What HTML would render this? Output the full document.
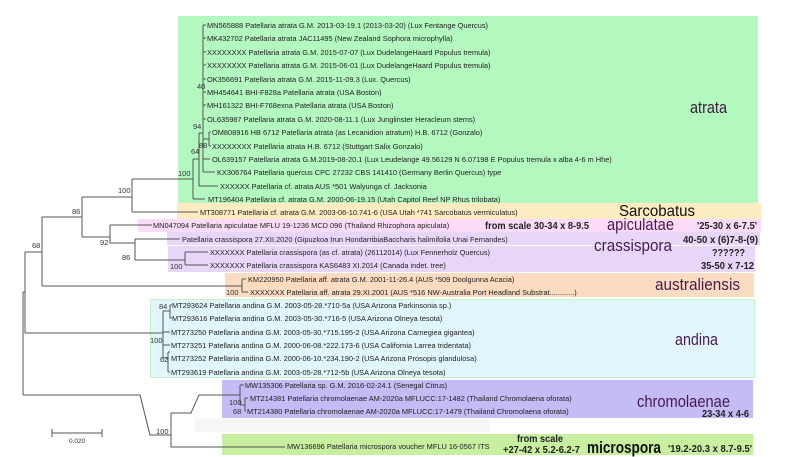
<!DOCTYPE html>
<html><head><meta charset="utf-8"><style>
html,body{margin:0;padding:0;background:#fff;}
svg{display:block;}
.t{font-family:"Liberation Sans",sans-serif;font-size:7.4px;fill:#222;}
.n{font-family:"Liberation Sans",sans-serif;font-size:7.5px;fill:#333;}
.b{font-family:"Liberation Sans",sans-serif;font-size:10.5px;font-weight:bold;fill:#222;}
.c{font-family:"Liberation Sans",sans-serif;font-size:16.5px;fill:#4a1850;}
</style></head><body>
<svg width="800" height="457" viewBox="0 0 800 457" xmlns="http://www.w3.org/2000/svg">
<rect x="178" y="16" width="580" height="187" fill="#b3f8bf"/>
<rect x="177" y="203" width="584" height="16" fill="#fdebc2"/>
<rect x="138" y="219" width="623" height="13" fill="#fadcf8"/>
<rect x="167" y="232" width="593" height="13" fill="#e8d6f9"/>
<rect x="168" y="246" width="587" height="26" fill="#e8d6f9"/>
<rect x="225" y="273" width="529" height="24" fill="#fcdcc0"/>
<rect x="150.5" y="299.5" width="604" height="78" fill="#e0f6fb" stroke="#c8f2c8" stroke-width="1"/>
<rect x="222" y="380" width="531" height="38" fill="#c3bcf5"/>
<rect x="195" y="419" width="295" height="13" fill="#f6f6f6"/>
<rect x="222" y="434" width="531" height="21" fill="#c8eea0"/>

<g stroke="#555" stroke-width="1" fill="none">
<path d="M193 159V199M193 159H199M193 199H205"/>
<path d="M199 133V186M199 186H218M199 133H203"/>
<path d="M203 25V172"/>
<path d="M203 25H206M203 38H206M203 52H206M203 65H206M203 79H206M203 92H206M203 105H206M203 119H206M203 159H210M203 172H215M203 139H209"/>
<path d="M209 132V146M209 132H211M209 146H211"/>
<path d="M132 179H193M132 179V212M132 212H198"/>
<path d="M82 197H132M82 197V237M82 237H110"/>
<path d="M110 225H152M110 225V243M110 243H135"/>
<path d="M135 239V260M135 239H180M135 260H185M185 252V265M185 252H208M185 265H208"/>
<path d="M42 217V286M42 217H82M42 286H242M242 279V292M242 279H246M242 292H248"/>
<path d="M25 252V333M25 252H42M25 333H163"/>
<path d="M163 311V358M163 311H170M170 305V318M170 305H172M170 318H172M163 332H170M163 345H170M163 358H168M168 352V372M168 352H170M168 372H170"/>
<path d="M23 292V395M23 292H25M23 395H140L150 435H171M171 413V447M171 447H285M171 413H191L199 395H240M240 385V405M240 385H244M240 405H245M245 398V411M245 398H248M245 411H246"/>
<path d="M52 433H102M52 429V437M102 429V437"/>
</g>

<text class="n" x="197" y="89">40</text>
<text class="n" x="193" y="129">94</text>
<text class="n" x="199" y="148">88</text>
<text class="n" x="191" y="154">64</text>
<text class="n" x="178" y="176">100</text>
<text class="n" x="118" y="193">100</text>
<text class="n" x="72" y="214">86</text>
<text class="n" x="32" y="248">68</text>
<text class="n" x="100" y="245">92</text>
<text class="n" x="122" y="260">86</text>
<text class="n" x="170" y="269">100</text>
<text class="n" x="226" y="295">100</text>
<text class="n" x="159" y="309">84</text>
<text class="n" x="150" y="343">100</text>
<text class="n" x="160" y="362">62</text>
<text class="n" x="229" y="405">100</text>
<text class="n" x="233" y="414">68</text>
<text class="n" x="156" y="434">100</text>
<text class="n" x="69" y="443" style="font-size:6.5px">0.020</text>

<text class="t" x="207" y="28">MN565888 Patellaria atrata G.M. 2013-03-19.1 (2013-03-20) (Lux Fentange Quercus)</text>
<text class="t" x="207" y="41">MK432702 Patellaria atrata JAC11495 (New Zealand Sophora microphylla)</text>
<text class="t" x="207" y="55">XXXXXXXX Patellaria atrata G.M. 2015-07-07 (Lux DudelangeHaard Populus tremula)</text>
<text class="t" x="207" y="68">XXXXXXXX Patellaria atrata G.M. 2015-06-01 (Lux DudelangeHaard Populus tremula)</text>
<text class="t" x="207" y="82">OK356691 Patellaria atrata G.M. 2015-11-09.3 (Lux. Quercus)</text>
<text class="t" x="207" y="95">MH454641 BHI-F828a Patellaria atrata (USA Boston)</text>
<text class="t" x="207" y="108">MH161322 BHI-F768exna Patellaria atrata (USA Boston)</text>
<text class="t" x="207" y="122">OL635987 Patellaria atrata G.M. 2020-08-11.1 (Lux Junglinster Heracleum stems)</text>
<text class="t" x="212" y="135">OM808916 HB 6712 Patellaria atrata (as Lecanidion atratum) H.B. 6712 (Gonzalo)</text>
<text class="t" x="212" y="149">XXXXXXXX Patellaria atrata H.B. 6712 (Stuttgart Salix Gonzalo)</text>
<text class="t" x="212" y="162">OL639157 Patellaria atrata G.M.2019-08-20.1 (Lux Leudelange 49.56129 N 6.07198 E Populus tremula x alba 4-6 m Hhe)</text>
<text class="t" x="217" y="175">KX306764 Patellaria quercus CPC 27232 CBS 141410 (Germany Berlin Quercus) type</text>
<text class="t" x="220" y="189">XXXXXX Patellaria cf. atrata AUS *501 Walyunga cf. Jacksonia</text>
<text class="t" x="208" y="202">MT196404 Patellaria cf. atrata G.M. 2000-06-19.15 (Utah Capitol Reef NP Rhus trilobata)</text>
<text class="t" x="200" y="215">MT308771 Patellaria cf. atrata G.M. 2003-06-10.741-6 (USA Utah *741 Sarcobatus vermiculatus)</text>
<text class="t" x="153" y="228">MN047094 Patellaria apiculatae MFLU 19-1236 MCD 096 (Thailand Rhizophora apiculata)</text>
<text class="t" x="182" y="242">Patellaria crassispora 27.XII.2020 (Gipuzkoa Irun HondarribiaBaccharis halimifolia Unai Fernandes)</text>
<text class="t" x="210" y="255">XXXXXXX Patellaria crassispora (as cf. atrata) (26112014) (Lux Fennerholz Quercus)</text>
<text class="t" x="210" y="268">XXXXXXX Patellaria crassispora KAS6483 XI.2014 (Canada indet. tree)</text>
<text class="t" x="248" y="282">KM220950 Patellaria aff. atrata G.M. 2001-11-26.4 (AUS *509 Doolgunna Acacia)</text>
<text class="t" x="250" y="295">XXXXXXX Patellaria aff. atrata 29.XI.2001 (AUS *516 NW-Australia Port Headland Substrat............)</text>
<text class="t" x="172" y="308">MT293624 Patellaria andina G.M. 2003-05-28.*710-5a (USA Arizona Parkinsonia sp.)</text>
<text class="t" x="172" y="321">MT293616 Patellaria andina G.M. 2003-05-30.*716-5 (USA Arizona Olneya tesota)</text>
<text class="t" x="171" y="335">MT273250 Patellaria andina G.M. 2003-05-30.*715.195-2 (USA Arizona Carnegiea gigantea)</text>
<text class="t" x="171" y="348">MT273251 Patellaria andina G.M. 2000-06-08.*222.173-6 (USA California Larrea tridentata)</text>
<text class="t" x="171" y="361">MT273252 Patellaria andina G.M. 2000-06-10.*234.190-2 (USA Arizona Prosopis glandulosa)</text>
<text class="t" x="171" y="375">MT293619 Patellaria andina G.M. 2003-05-28.*712-5b (USA Arizona Olneya tesota)</text>
<text class="t" x="245" y="388">MW135306 Patellaria sp. G.M. 2016-02-24.1 (Senegal Citrus)</text>
<text class="t" x="250" y="401">MT214381 Patellaria chromolaenae AM-2020a MFLUCC:17-1482 (Thailand Chromolaena oforata)</text>
<text class="t" x="247" y="414">MT214380 Patellaria chromolaenae AM-2020a MFLUCC:17-1479 (Thailand Chromolaena oforata)</text>
<text class="t" x="287" y="449">MW136696 Patellaria microspora voucher MFLU 16-0567 ITS</text>

<text class="c" x="690" y="113" textLength="37" lengthAdjust="spacingAndGlyphs" style="fill:#3a1a40">atrata</text>
<text class="c" x="619" y="216" textLength="76" lengthAdjust="spacingAndGlyphs" style="fill:#111;font-size:16px">Sarcobatus</text>
<text class="b" x="485" y="229" textLength="104" lengthAdjust="spacingAndGlyphs">from scale 30-34 x 8-9.5</text>
<text class="c" x="607" y="230" textLength="67" lengthAdjust="spacingAndGlyphs">apiculatae</text>
<text class="b" x="697" y="229" textLength="60" lengthAdjust="spacingAndGlyphs">'25-30 x 6-7.5'</text>
<text class="c" x="594" y="251" textLength="78" lengthAdjust="spacingAndGlyphs">crassispora</text>
<text class="b" x="683" y="243" textLength="75" lengthAdjust="spacingAndGlyphs">40-50 x (6)7-8-(9)</text>
<text class="b" x="712" y="256" textLength="33" lengthAdjust="spacingAndGlyphs">??????</text>
<text class="b" x="701" y="269" textLength="53" lengthAdjust="spacingAndGlyphs">35-50 x 7-12</text>
<text class="c" x="655" y="290" textLength="85" lengthAdjust="spacingAndGlyphs">australiensis</text>
<text class="c" x="675" y="345" textLength="43" lengthAdjust="spacingAndGlyphs">andina</text>
<text class="c" x="637" y="407" textLength="93" lengthAdjust="spacingAndGlyphs">chromolaenae</text>
<text class="b" x="702" y="417" textLength="47" lengthAdjust="spacingAndGlyphs">23-34 x 4-6</text>
<text class="b" x="517" y="442" textLength="46" lengthAdjust="spacingAndGlyphs">from scale</text>
<text class="b" x="503" y="453" textLength="77" lengthAdjust="spacingAndGlyphs">+27-42 x 5.2-6.2-7</text>
<text class="c" x="587" y="453" textLength="74" lengthAdjust="spacingAndGlyphs" style="font-weight:bold;fill:#111">microspora</text>
<text class="b" x="668" y="452" textLength="84" lengthAdjust="spacingAndGlyphs">'19.2-20.3 x 8.7-9.5'</text>
</svg>
</body></html>
